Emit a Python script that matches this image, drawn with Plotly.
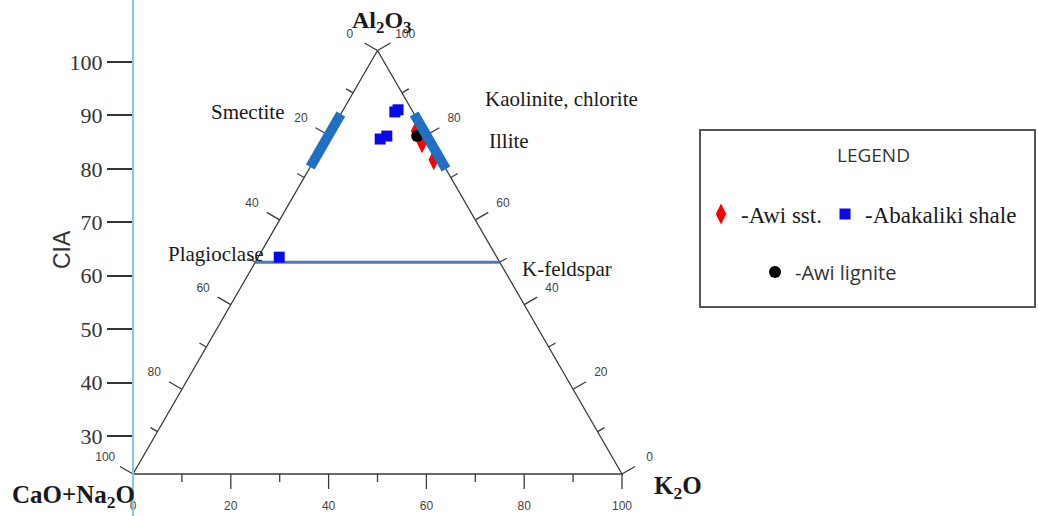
import math
import plotly.graph_objects as go

# ---------------- data (ternary compositions in %: A = Al2O3, CN = CaO+Na2O, K = K2O)
awi_sst_A = [81.0, 78.2, 74.2]
awi_sst_CN = [1.6, 1.8, 1.4]
awi_sst_K = [17.4, 20.0, 24.4]

abakaliki_A = [85.5, 86.0, 79.1, 79.8, 51.2]
abakaliki_CN = [3.7, 2.8, 9.9, 8.2, 44.5]
abakaliki_K = [10.8, 11.2, 11.0, 12.0, 4.3]

lignite_A = [79.8]
lignite_CN = [2.0]
lignite_K = [18.2]

# mineral fields / joins
smectite_A = [72.5, 85.0]
smectite_CN = [27.5, 15.0]
smectite_K = [0.0, 0.0]

illite_A = [85.0, 72.0]
illite_CN = [0.0, 0.0]
illite_K = [15.0, 28.0]

feldspar_A = [50.0, 50.0]
feldspar_CN = [50.0, 0.0]
feldspar_K = [0.0, 50.0]

tern_ticks = [0, 10, 20, 30, 40, 50, 60, 70, 80, 90, 100]
tern_labels = [0, 20, 40, 60, 80, 100]
cia_ticks = [30, 40, 50, 60, 70, 80, 90, 100]

# ---------------- geometry helpers
W, H = 1038, 516
S = 4.89            # pixels per ternary unit
X0, Y0 = 133, 474   # pixel of the CaO+Na2O vertex
R3 = math.sqrt(3) / 2


def txy(A, CN, K):
    xs, ys = [], []
    for a, c, k in zip(A, CN, K):
        t = a + c + k
        a, k = a / t * 100, k / t * 100
        xs.append(k + a / 2)
        ys.append(a * R3)
    return xs, ys


def px(p):  # pixels -> data units
    return p / S


fig = go.Figure()

# triangle
tx, ty = txy([0, 0, 100, 0], [100, 0, 0, 100], [0, 100, 0, 0])
fig.add_trace(go.Scatter(x=tx, y=ty, mode="lines", line=dict(color="#3a3a3a", width=1.3),
                         hoverinfo="skip", showlegend=False))

# ternary ticks and labels
edges = [
    (lambda v: ([0], [100 - v], [v]), (0.0, -1.0)),          # bottom: K2O
    (lambda v: ([100 - v], [v], [0]), (-R3, 0.5)),           # left: CaO+Na2O
    (lambda v: ([v], [0], [100 - v]), (R3, 0.5)),            # right: Al2O3
]
tick_x, tick_y, lab_x, lab_y, lab_t = [], [], [], [], []
for f, (dx, dy) in edges:
    for v in tern_ticks:
        (x,), (y,) = txy(*f(v))
        L = px(15) if v in tern_labels else px(8)
        tick_x += [x, x + dx * L, None]
        tick_y += [y, y + dy * L, None]
        if v in tern_labels:
            d = px(33) if dy == -1.0 else px(32)
            lab_x.append(x + dx * d)
            lab_y.append(y + dy * d)
            lab_t.append(str(v))
fig.add_trace(go.Scatter(x=tick_x, y=tick_y, mode="lines", line=dict(color="#3a3a3a", width=1.3),
                         hoverinfo="skip", showlegend=False))
fig.add_trace(go.Scatter(x=lab_x, y=lab_y, mode="text", text=lab_t,
                         textfont=dict(family="Liberation Sans", size=12, color="#444"),
                         hoverinfo="skip", showlegend=False))

# feldspar join
fx, fy = txy(feldspar_A, feldspar_CN, feldspar_K)
fig.add_trace(go.Scatter(x=fx, y=fy, mode="lines", line=dict(color="#4a78bd", width=3),
                         hoverinfo="skip", showlegend=False))

# samples
x, y = txy(awi_sst_A, awi_sst_CN, awi_sst_K)
fig.add_trace(go.Scatter(x=x, y=y, mode="markers", name="-Awi sst.", legend="legend",
                         marker=dict(symbol="diamond-tall", size=15, color="#ff0000")))
x, y = txy(abakaliki_A, abakaliki_CN, abakaliki_K)
fig.add_trace(go.Scatter(x=x, y=y, mode="markers", name="-Abakaliki shale", legend="legend2",
                         marker=dict(symbol="square", size=11, color="#0a0ae8")))
x, y = txy(lignite_A, lignite_CN, lignite_K)
fig.add_trace(go.Scatter(x=x, y=y, mode="markers", name="-Awi lignite", legend="legend3",
                         marker=dict(symbol="circle", size=12, color="#000000")))

# mineral bars (drawn over the samples)
for A, CN, K in [(smectite_A, smectite_CN, smectite_K), (illite_A, illite_CN, illite_K)]:
    bx, by = txy(A, CN, K)
    fig.add_trace(go.Scatter(x=bx, y=by, mode="lines", line=dict(color="#1f6fc2", width=10),
                             hoverinfo="skip", showlegend=False))

# helper so the CIA axis exists
fig.add_trace(go.Scatter(x=[None], y=[None], yaxis="y2", showlegend=False, hoverinfo="skip"))

serif = "Liberation Serif"


def ann(text, xp, yp, size, xanchor="center", bold=False, family=serif, angle=0, color="#1a1a1a"):
    if bold:
        text = "<b>" + text + "</b>"
    fig.add_annotation(text=text, x=xp / W, y=1 - yp / H, xref="paper", yref="paper",
                       xanchor=xanchor, yanchor="middle", showarrow=False, textangle=angle,
                       font=dict(family=family, size=size, color=color))


ann("Al<sub>2</sub>O<sub>3</sub>", 381, 22, 24, bold=True)
ann("CaO+Na<sub>2</sub>O", 10, 496, 25, xanchor="left", bold=True)
ann("K<sub>2</sub>O", 652, 487, 25, xanchor="left", bold=True)
ann("Smectite", 247, 112, 21)
ann("Kaolinite, chlorite", 483, 99, 21, xanchor="left")
ann("Illite", 487, 141, 21, xanchor="left")
ann("Plagioclase", 166, 254, 21, xanchor="left")
ann("K-feldspar", 520, 269, 21, xanchor="left")
ann("CIA", 62, 250, 23, family="Liberation Sans", angle=-90, color="#333")
ann("LEGEND", 873, 155, 19, family="Open Sans", color="#333")

# legend box
fig.add_shape(type="rect", xref="paper", yref="paper",
              x0=700 / W, x1=1035 / W, y0=1 - 307 / H, y1=1 - 130 / H,
              line=dict(color="#555", width=2))

leg_common = dict(bgcolor="rgba(0,0,0,0)", borderwidth=0, xanchor="left", yanchor="middle",
                  itemclick=False, itemdoubleclick=False)
fig.update_layout(
    legend=dict(x=701 / W, y=1 - 214 / H, font=dict(family=serif, size=23, color="#1a1a1a"), **leg_common),
    legend2=dict(x=825 / W, y=1 - 214 / H, font=dict(family=serif, size=23, color="#1a1a1a"), **leg_common),
    legend3=dict(x=755 / W, y=1 - 272 / H, font=dict(family="Open Sans", size=20, color="#333"), **leg_common),
)

fig.update_layout(
    width=W, height=H,
    margin=dict(l=0, r=0, t=0, b=0, pad=0),
    paper_bgcolor="white", plot_bgcolor="white",
    xaxis=dict(range=[-px(X0), px(W - X0)], visible=False, fixedrange=True),
    yaxis=dict(range=[-px(H - Y0), px(Y0)], visible=False, fixedrange=True),
    yaxis2=dict(overlaying="y", anchor="free", position=X0 / W, side="left",
                range=[100 - (H - 62) / (374 / 70), 100 + 62 / (374 / 70)],
                tickvals=cia_ticks, ticks="outside", ticklen=25, tickwidth=2, tickcolor="#333",
                showline=True, linecolor="#7cc8ee", linewidth=2, showgrid=False, zeroline=False,
                tickfont=dict(family=serif, size=22, color="#333"), fixedrange=True),
    showlegend=True,
)

fig.write_html("out.html", config={"displayModeBar": False},
               post_script="document.body.style.margin='0px';")
